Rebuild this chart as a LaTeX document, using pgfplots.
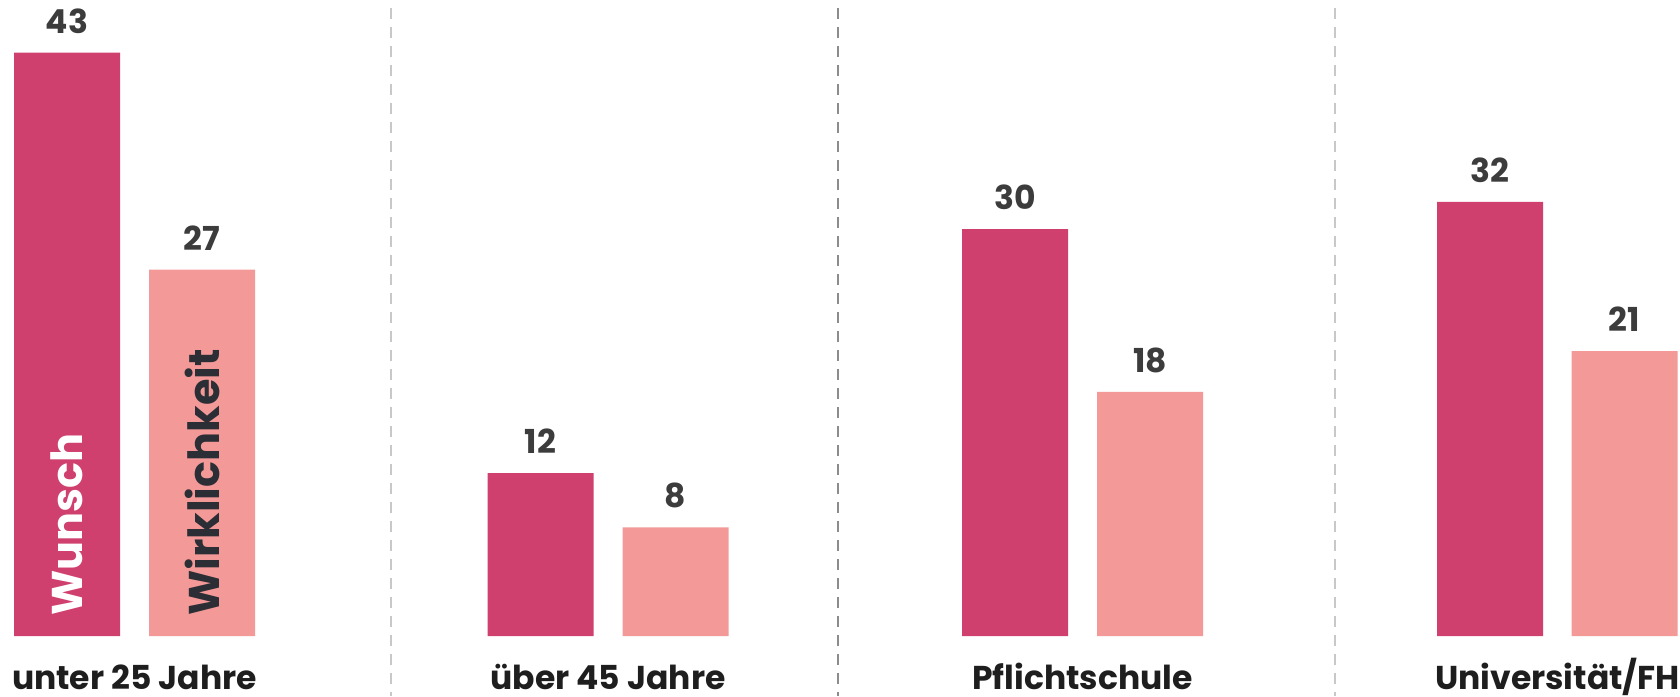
\documentclass[border=0pt]{standalone}
\usepackage{fontspec}
\setmainfont{Poppins}
\usepackage{pgfplots}
\pgfplotsset{compat=1.18}
\definecolor{wunsch}{HTML}{CF406F}
\definecolor{wirk}{HTML}{F39A98}
\definecolor{numgray}{HTML}{3C3C3C}
\definecolor{labblack}{HTML}{1E1E1E}
\definecolor{wirktext}{HTML}{2B2E35}
\definecolor{lightdash}{HTML}{C8C8C8}
\definecolor{darkdash}{HTML}{8C8C8C}
\tikzset{catlab/.style={anchor=base, inner sep=0pt, text=labblack, font=\fontsize{16.5}{18}\selectfont\bfseries}}
\begin{document}
\begin{tikzpicture}
\begin{axis}[
  width=840pt, height=348pt, scale only axis,
  xmin=0, xmax=1680, ymin=-4.423, ymax=46.885,
  hide axis, clip=false,
  ybar, bar width=106,
  /pgf/number format/assume math mode=true,
  nodes near coords,
  every node near coord/.append style={font=\fontsize{16.5}{18}\selectfont\bfseries, text=numgray, anchor=base, yshift=9.75pt, inner sep=0pt},
]
\draw[lightdash, line width=1.3pt, dash pattern=on 5.5pt off 4pt] (axis cs:391,46.3) -- (axis cs:391,-4.423);
\draw[darkdash, line width=1.3pt, dash pattern=on 5.5pt off 4pt] (axis cs:838,46.3) -- (axis cs:838,-4.423);
\draw[lightdash, line width=1.3pt, dash pattern=on 5.5pt off 4pt] (axis cs:1335,46.3) -- (axis cs:1335,-4.423);
\addplot[fill=wunsch, draw=none, bar shift=0pt] coordinates {(67,43) (540.5,12) (1015,30) (1490,32)};
\addplot[fill=wirk, draw=none, bar shift=0pt] coordinates {(202,27) (675.5,8) (1150,18) (1624.5,21)};
\node[rotate=90, anchor=west, inner sep=0pt, text=white, font=\fontsize{21.5}{24}\selectfont\bfseries] at (axis cs:67,1.47) {Wunsch};
\node[rotate=90, anchor=west, inner sep=0pt, text=wirktext, font=\fontsize{21.5}{24}\selectfont\bfseries] at (axis cs:202,1.47) {Wirklichkeit};
\node[catlab] at (axis cs:134.5,-3.98) {unter 25 Jahre};
\node[catlab] at (axis cs:608,-3.98) {über 45 Jahre};
\node[catlab] at (axis cs:1082.5,-3.98) {Pflichtschule};
\node[catlab] at (axis cs:1557.5,-3.98) {Universität/FH};
\end{axis}
\pgfresetboundingbox
\path (current axis.south west) rectangle (current axis.north east);
\end{tikzpicture}
\end{document}
